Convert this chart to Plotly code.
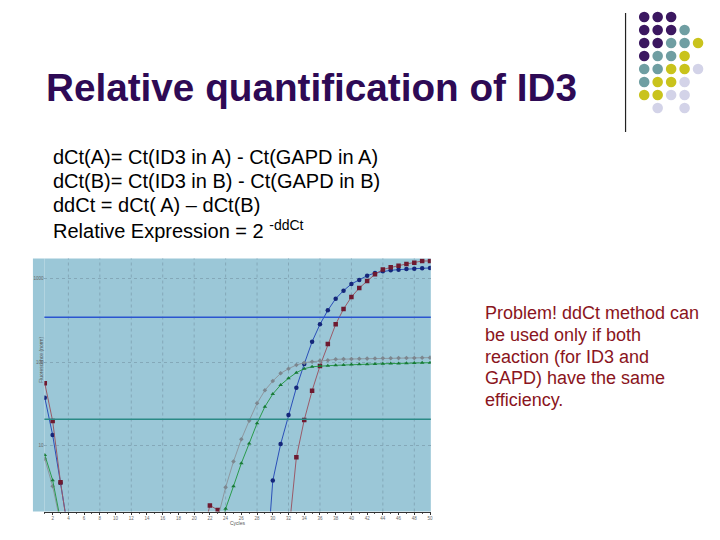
import plotly.graph_objects as go

# the page body has an 8px margin, so the figure is 712x532 and page
# pixel positions are shifted by 8px
OFF = 8
W, H = 720 - OFF, 540 - OFF

# ---------------- data ----------------
cycles = list(range(1, 51))

# blue (circles)
blue_vals = [37.6, 13.5, 3.6, 0.95] + [0.5] * 24 + [0.2,
             3.85, 10.5, 23.4, 49.5, 95, 175, 282, 415, 571, 712,
             855, 955, 1074, 1157, 1212, 1245, 1267, 1291, 1302, 1316, 1327]
# red (squares)
red_vals = [55.8, 19.8, 3.68, 0.9] + [0.5] * 16 + [0.8, 1.95, 1.72, 0.9] + [0.5] * 7 + [0.85,
            7.3, 20.4, 45.6, 89.8, 164, 282, 430, 598, 766, 929,
            1116, 1274, 1353, 1414, 1481, 1536, 1608, 1608]
# gray
gray_vals = [7.0, 3.3, 1.2] + [0.5] * 19 + [1.37,
             3.2, 6.5, 12.0, 20.0, 32.2, 46, 59.4, 73.4, 83.4, 92.3, 98.4,
             101, 104, 105, 108, 108.5, 109, 109.5, 110, 110.5, 111, 111,
             111.5, 112, 112, 112.5, 113]
# green (triangles)
green_vals = [7.8, 3.9, 1.3] + [0.5] * 19 + [0.8,
              1.78, 3.3, 6.2, 10.7, 18.6, 29.4, 41.6, 53.3, 64.1, 74.8, 83.4,
              88, 89.8, 90.5, 91.5, 92.5, 93.5, 94, 94.5, 95, 95.5, 96, 96.5,
              97, 97.5, 98, 98.4]

thresholds = [342, 20.8]
threshold_colors = ["#2a55d0", "#2a8a86"]

x_tick_vals = list(range(2, 51, 2))
x_tick_text = [str(v) for v in x_tick_vals]
x_grid_vals = list(range(4, 49, 4))
y_tick_vals = [10, 100, 1000]
y_tick_text = ["10", "100", "1000"]

title_text = "Relative quantification of ID3"
body_lines = [
    "dCt(A)= Ct(ID3 in A) - Ct(GAPD in A)",
    "dCt(B)= Ct(ID3 in B) - Ct(GAPD in B)",
    "ddCt = dCt( A) \u2013 dCt(B)",
    "Relative Expression = 2 <sup>-ddCt</sup>",
]
note_lines = [
    "Problem! ddCt method can",
    "be used only if both",
    "reaction (for ID3 and",
    "GAPD) have the same",
    "efficiency.",
]

# decorative dot grid (row by row, colour codes per column; '' = empty)
P, T, Y, L = "#3b1760", "#6f9ea2", "#c9c31c", "#d3d3e8"
dot_rows = [
    [P, P, P, "", ""],
    [P, P, P, T, ""],
    [P, P, T, T, Y],
    [P, T, T, Y, ""],
    [T, T, Y, Y, L],
    [T, Y, Y, L, ""],
    [Y, Y, L, L, ""],
    ["", L, "", L, ""],
]

# ---------------- helpers ----------------
def px(x):
    return (x - OFF) / W


def py(y):
    return 1 - (y - OFF) / H


plot_left, plot_right = 44.5, 432
plot_top, plot_bottom = 258.5, 511.5
FONT = "Liberation Sans, Arial"

fig = go.Figure()

series = [
    (blue_vals, "#2b4fb8", "#14267a", "circle", 4.5),
    (red_vals, "#9a5a68", "#6e1a30", "square", 4.5),
    (gray_vals, "#8d979f", "#7c868e", "diamond", 3.5),
    (green_vals, "#2a9a4c", "#177a36", "triangle-up", 4),
]
for vals, lc, mc, sym, ms in series:
    fig.add_trace(go.Scatter(
        x=cycles, y=vals, mode="lines+markers",
        line=dict(color=lc, width=1),
        marker=dict(color=mc, symbol=sym, size=ms),
        showlegend=False, cliponaxis=True,
    ))

shapes = []
# left strip of the chart picture
shapes.append(dict(type="rect", xref="paper", yref="paper",
                   x0=px(33), x1=px(plot_left), y0=py(plot_bottom), y1=py(plot_top),
                   fillcolor="#9bc7d7", line=dict(width=0), layer="below"))
# vertical dotted grid
for gx in x_grid_vals:
    shapes.append(dict(type="line", xref="x", yref="y domain", x0=gx, x1=gx, y0=0, y1=1,
                       line=dict(color="#84a8b8", width=1, dash="dot"), layer="below"))
# thresholds
for tv, tc in zip(thresholds, threshold_colors):
    shapes.append(dict(type="line", xref="x domain", yref="y", x0=0, x1=1, y0=tv, y1=tv,
                       line=dict(color=tc, width=1.5)))
# decorative dots
col_x = [646, 659.5, 673, 686.5, 700]
row_y = [17, 30, 43, 56, 69, 82, 95, 108]
r = 5.3
for ri, row in enumerate(dot_rows):
    for ci, c in enumerate(row):
        if not c:
            continue
        cx, cy = col_x[ci], row_y[ri]
        shapes.append(dict(type="circle", xref="paper", yref="paper",
                           x0=px(cx - r), x1=px(cx + r), y0=py(cy + r), y1=py(cy - r),
                           fillcolor=c, line=dict(width=0)))
# vertical slide rule
shapes.append(dict(type="line", xref="paper", yref="paper",
                   x0=px(627.3), x1=px(627.3), y0=py(13), y1=py(132),
                   line=dict(color="#222222", width=1.2)))

annotations = []
annotations.append(dict(text="<b>" + title_text + "</b>", x=px(44), y=py(87),
                        xref="paper", yref="paper",
                        xanchor="left", yanchor="middle", showarrow=False,
                        font=dict(family=FONT, size=38.7, color="#2e0a55")))
for i, t in enumerate(body_lines):
    annotations.append(dict(text=t, x=px(51), y=py(157 + i * 24), xref="paper", yref="paper",
                            xanchor="left", yanchor="middle", showarrow=False,
                            font=dict(family=FONT, size=20, color="#000000")))
for i, t in enumerate(note_lines):
    annotations.append(dict(text=t, x=px(484), y=py(313 + i * 21.8), xref="paper", yref="paper",
                            xanchor="left", yanchor="middle", showarrow=False,
                            font=dict(family=FONT, size=18, color="#8a1420")))
# axis titles (tiny)
annotations.append(dict(text="Cycles", x=px((plot_left + plot_right) / 2), y=py(523),
                        xref="paper", yref="paper", xanchor="center", yanchor="middle",
                        showarrow=False,
                        font=dict(family=FONT, size=5, color="#555555")))
annotations.append(dict(text="Fluorescence (norm)", x=px(36), y=py(385), textangle=-90,
                        xref="paper", yref="paper", showarrow=False,
                        font=dict(family=FONT, size=5, color="#555555")))

fig.update_layout(
    width=W, height=H, autosize=False,
    margin=dict(l=0, r=0, t=0, b=0),
    paper_bgcolor="white", plot_bgcolor="#9bc7d7",
    shapes=shapes, annotations=annotations,
    xaxis=dict(domain=[px(plot_left), px(plot_right)], range=[0.95, 50.1],
               tickvals=x_tick_vals, ticktext=x_tick_text, showgrid=False, zeroline=False,
               showline=True, linecolor="#333333", linewidth=1,
               ticks="outside", ticklen=2, tickcolor="#333333",
               ticklabelstandoff=0,
               minor=dict(dtick=1, ticks="outside", ticklen=1.5, tickcolor="#555555"),
               tickfont=dict(size=4.5, color="#666666", family=FONT)),
    yaxis=dict(domain=[py(plot_bottom), py(plot_top)], type="log", range=[0.217, 3.236],
               tickvals=y_tick_vals, ticktext=y_tick_text,
               showgrid=True, gridcolor="#84a8b8", griddash="dot", gridwidth=1,
               zeroline=False, showline=False, ticks="",
               tickfont=dict(size=4.5, color="#666666", family=FONT)),
)

fig.write_html("out.html")
